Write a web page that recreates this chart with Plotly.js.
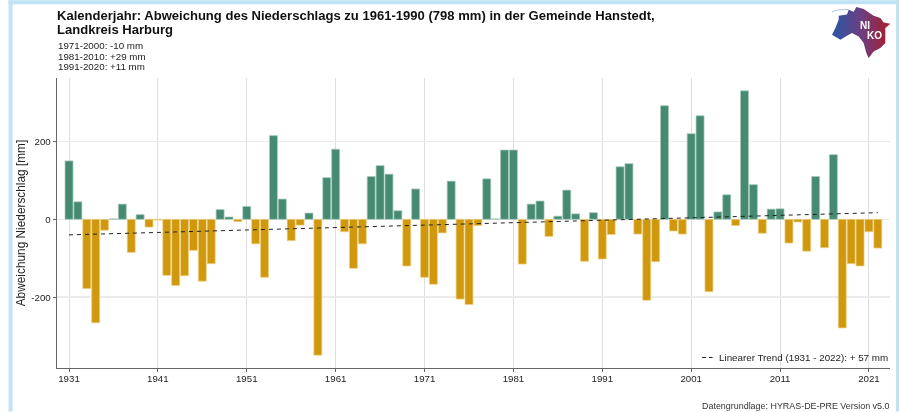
<!DOCTYPE html>
<html><head><meta charset="utf-8">
<script src="https://cdn.plot.ly/plotly-3.0.1.min.js"></script>
<style>html,body{margin:0;padding:0;background:#fff}#c{width:899px;height:412px;filter:blur(0.35px)}</style>
</head><body><div id="c"></div>
<script>
var years=[];for(var yr=1931;yr<=2022;yr++)years.push(yr);
var anomaly=[150,45,-178,-266,-28,1,39,-85,12,-20,-2,-144,-170,-145,-80,-159,-114,25,6,-6,33,-63,-149,215,52,-55,-15,16,-349,107,180,-32,-126,-63,110,138,116,22,-120,78,-149,-167,-35,98,-205,-219,-16,104,1,178,178,-115,39,47,-44,8,75,14,-108,17,-102,-39,135,143,-38,-208,-109,292,-30,-38,220,266,-186,19,63,-16,330,89,-36,26,27,-61,-7,-82,110,-73,166,-279,-114,-120,-32,-74];
var trendYears=[1931,2022];
var trendValues=[-40,17];
var tickYears=[1931,1941,1951,1961,1971,1981,1991,2001,2011,2021];
var tickVals=[-200,0,200];
var titleLines=["Kalenderjahr: Abweichung des Niederschlags zu 1961-1990 (798 mm) in der Gemeinde Hanstedt,","Landkreis Harburg"];
var subLines=["1971-2000: -10 mm","1981-2010: +29 mm","1991-2020: +11 mm"];
var trendLabel="Linearer Trend (1931 - 2022): + 57 mm";
var sourceText="Datengrundlage: HYRAS-DE-PRE Version v5.0";
var GREEN="#468a72",GOLD="#d0980c",FONT="Liberation Sans, Arial, sans-serif";
var W=899,H=412,L=56.5,R=9,T=78,B=43.5,PW=W-L-R,PH=H-T-B;
function px(x){return (x-L)/PW}
function py(y){return 1+(T-y)/PH}
function label(x,y,text,size,color,anchor){return {xref:"paper",yref:"paper",x:px(x),y:py(y),xanchor:anchor||"left",yanchor:"middle",align:anchor||"left",showarrow:false,borderpad:0,text:text,font:{size:size,color:color}}}
var logo='<svg xmlns="http://www.w3.org/2000/svg" width="175" height="153" viewBox="1145 22 175 153"><defs><linearGradient id="g" gradientUnits="userSpaceOnUse" x1="1145" x2="1320" y1="0" y2="0"><stop offset="0" stop-color="#2a57a8"/><stop offset="0.5" stop-color="#6b3f80"/><stop offset="1" stop-color="#ab1c2b"/></linearGradient></defs><path fill="none" stroke="#8fa8cc" stroke-width="2" d="M1145 36 L1165 30 L1195 29"/><path fill="url(#g)" d="M1165 48 L1190 44 L1195 30 L1210 36 L1218 22 L1240 28 L1258 40 L1270 48 L1290 55 L1300 68 L1320 72 L1305 85 L1305 130 L1290 145 L1270 155 L1255 175 L1248 160 L1240 130 L1225 110 L1205 100 L1195 105 L1170 120 L1145 105 L1155 85 L1165 60 Z"/></svg>';
var data=[
 {type:"bar",x:years,y:anomaly,width:0.9,marker:{color:anomaly.map(function(v){return v>=0?GREEN:GOLD}),line:{color:anomaly.map(function(v){return v>=0?"#a9cbbd":"#eed28c"}),width:0.7}},hoverinfo:"x+y",showlegend:false},
 {type:"scatter",mode:"lines",x:trendYears,y:trendValues,line:{color:"#222",width:1,dash:"4px,4px"},showlegend:false}
];
var annotations=[
 label(55.5,15,"<b>"+titleLines[0]+"</b>",13.05,"#111"),
 label(55.5,29.5,"<b>"+titleLines[1]+"</b>",13.05,"#111"),
 label(56,45.7,subLines[0],9.75,"#222"),
 label(56,56.2,subLines[1],9.75,"#222"),
 label(56,66.7,subLines[2],9.75,"#222"),
 label(888.5,358,trendLabel,9.8,"#222","right"),
 label(890,406.5,sourceText,8.93,"#333","right"),
 label(865,25,"<b>NI</b>",10,"#fff","center"),
 label(874,35,"<b>KO</b>",10,"#fff","center")
];
var layout={
 width:W,height:H,paper_bgcolor:"#fff",plot_bgcolor:"#fff",
 font:{family:FONT,color:"#333"},
 margin:{l:L,r:R,t:T,b:B},
 bargap:0.1,showlegend:false,
 xaxis:{range:[1929.65,2023.37],tickmode:"array",tickvals:tickYears,ticktext:tickYears.map(String),showgrid:true,gridcolor:"#dedede",gridwidth:1,zeroline:false,showline:true,linecolor:"#666",linewidth:1.3,ticks:"outside",ticklen:3,tickcolor:"#666",tickfont:{size:9.7,color:"#222"},ticklabelstandoff:-2},
 yaxis:{range:[-382,363],tickmode:"array",tickvals:tickVals,ticktext:["-200","0","200"],showgrid:true,gridcolor:"#ebebeb",gridwidth:1.3,zeroline:false,showline:true,linecolor:"#666",linewidth:1.3,ticks:"outside",ticklen:3,tickcolor:"#666",tickfont:{size:9.7,color:"#222"},title:{text:"Abweichung Niederschlag [mm]",font:{size:11.85,color:"#222"},standoff:3}},
 annotations:annotations,
 shapes:[
  {type:"rect",xref:"paper",yref:"paper",x0:px(8),x1:px(12),y0:py(412),y1:py(0),fillcolor:"#bfe3f3",line:{width:0},layer:"below"},
  {type:"rect",xref:"paper",yref:"paper",x0:px(8),x1:px(899),y0:py(4),y1:py(0),fillcolor:"#bfe3f3",line:{width:0},layer:"below"},
  {type:"rect",xref:"paper",yref:"paper",x0:px(896),x1:px(899),y0:py(412),y1:py(0),fillcolor:"#bfe3f3",line:{width:0},layer:"below"},
  {type:"line",xref:"paper",yref:"paper",x0:px(702),x1:px(712.5),y0:py(358),y1:py(358),line:{color:"#222",width:1,dash:"4px,3px"}}
 ],
 images:[{source:"data:image/svg+xml;utf8,"+encodeURIComponent(logo),xref:"paper",yref:"paper",x:px(832),y:py(7),sizex:58.3/PW,sizey:51/PH,xanchor:"left",yanchor:"top",sizing:"stretch",layer:"above"}]
};
Plotly.newPlot("c",data,layout,{displayModeBar:false,staticPlot:true});
</script></body></html>
